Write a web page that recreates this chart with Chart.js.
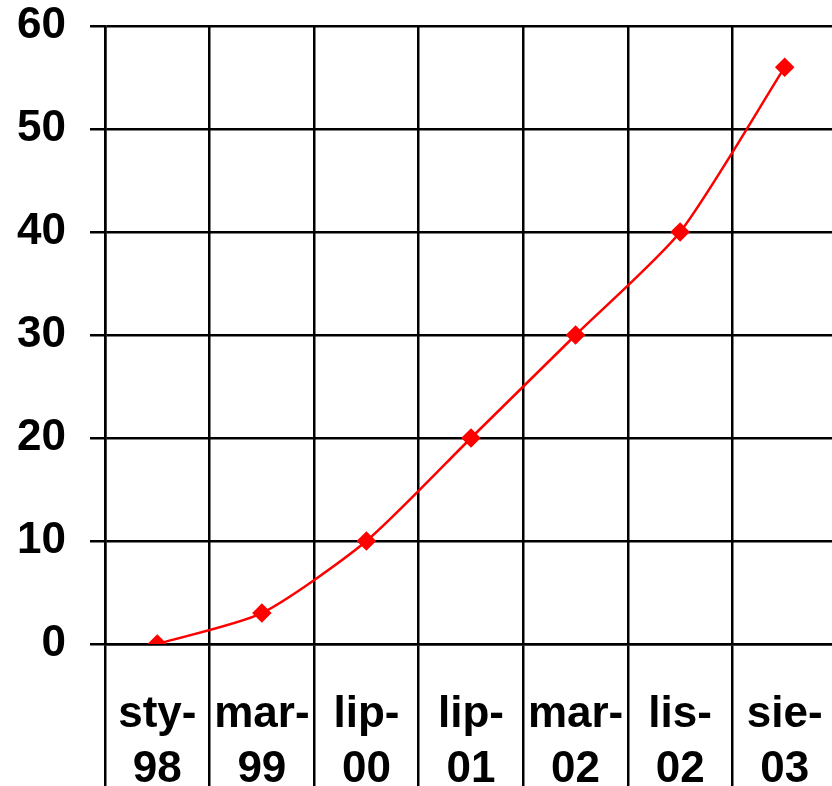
<!DOCTYPE html>
<html lang="pl">
<head>
<meta charset="UTF-8">
<title>Wykres</title>
<style>
    html, body { margin: 0; padding: 0; background: #fff; overflow: hidden; }
    .chartBox { width: 832px; height: 786px; overflow: hidden; }
    canvas { display: block; }
</style>
</head>
<body>
<div class="chartBox">
    <canvas id="myChart" width="840" height="786"></canvas>
</div>
<script src="https://cdn.jsdelivr.net/npm/chart.js"></script>
<script>
// data
const labels = [['sty-', '98'], ['mar-', '99'], ['lip-', '00'], ['lip-', '01'], ['mar-', '02'], ['lis-', '02'], ['sie-', '03']];
const values = [0, 3, 10, 20, 30, 40, 56];
const yMin = 0, yMax = 60, yStep = 10;

const font = { family: '"Liberation Sans", Arial, sans-serif', size: 44, weight: 'bold', lineHeight: 1.24 };

const ctx = document.getElementById('myChart').getContext('2d');
const myChart = new Chart(ctx, {
    type: 'line',
    data: {
        labels: labels,
        datasets: [{
            data: values,
            borderColor: '#ff0000',
            backgroundColor: '#ff0000',
            borderWidth: 2.5,
            tension: 0.22,
            pointStyle: 'rectRot',
            pointRadius: 8,
            pointHoverRadius: 8
        }]
    },
    options: {
        responsive: false,
        animation: false,
        layout: { autoPadding: false, padding: { top: 26, right: 3, left: 0, bottom: 0 } },
        plugins: { legend: { display: false }, tooltip: { enabled: false } },
        scales: {
            x: {
                offset: true,
                grid: { offset: true, color: '#000', lineWidth: 2.5, tickLength: 142 },
                border: { display: true, color: '#000', width: 2.5 },
                ticks: { color: '#000', font: font, padding: -98, maxRotation: 0, autoSkip: false },
                afterFit: (scale) => { scale.height = 142; scale.paddingLeft = 0; scale.paddingRight = 0; }
            },
            y: {
                min: yMin,
                max: yMax,
                grid: { color: '#000', lineWidth: 2.5, tickLength: 15 },
                border: { display: true, color: '#000', width: 2.5 },
                ticks: { stepSize: yStep, color: '#000', font: font, padding: 24 },
                afterFit: (scale) => { scale.width = 105; scale.paddingTop = 0; scale.paddingBottom = 0; }
            }
        }
    }
});
</script>
</body>
</html>
